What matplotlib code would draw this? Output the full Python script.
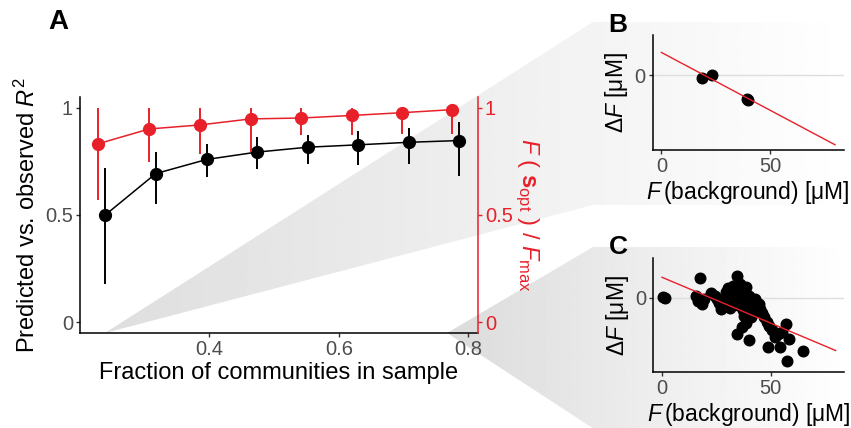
import matplotlib.pyplot as plt
from matplotlib.patches import Polygon
import numpy as np

plt.rcParams['font.family'] = ['Liberation Sans', 'DejaVu Sans']
plt.rcParams['mathtext.fontset'] = 'custom'
plt.rcParams['mathtext.rm'] = 'Liberation Sans'
plt.rcParams['mathtext.it'] = 'Liberation Sans:italic'
plt.rcParams['mathtext.bf'] = 'Liberation Sans:bold'

RED = '#E8202A'
TICK_GREY = '#4D4D4D'

# panel A: predicted vs observed R^2 (black, left axis)
frac_r2 = [0.239, 0.317, 0.396, 0.473, 0.552, 0.629, 0.709, 0.786]
r2_mean = [0.50, 0.693, 0.759, 0.793, 0.816, 0.827, 0.839, 0.847]
r2_low = [0.18, 0.551, 0.677, 0.716, 0.739, 0.731, 0.739, 0.682]
r2_high = [0.717, 0.793, 0.832, 0.862, 0.875, 0.890, 0.906, 0.932]

# panel A: F(s_opt)/F_max (red, right axis)
frac_opt = [0.228, 0.307, 0.386, 0.464, 0.542, 0.620, 0.698, 0.775]
opt_mean = [0.832, 0.901, 0.920, 0.948, 0.952, 0.964, 0.977, 0.991]
opt_low = [0.569, 0.747, 0.782, 0.793, 0.875, 0.875, 0.878, 0.878]
opt_high = [1.0, 1.0, 1.0, 1.0, 1.0, 1.0, 1.0, 1.0]

# panel B
bg_b = [18.7, 23.5, 39.3, 40.0]
dF_b = [-1.1, 0.3, -10.7, -11.3]
fit_b = (10.5, -0.53)

# panel C
bg_c = [0.5, 1.5, 15.5, 16.5, 17.5, 18.5, 19.5, 22.5, 24.5, 25.5, 26.5, 27.0,
        28.5, 29.5, 30.0, 30.5, 31.0, 31.5, 32.0, 32.5, 33.0, 33.5, 34.0, 34.5,
        35.0, 35.5, 36.0, 36.5, 37.0, 37.5, 38.0, 38.5, 38.0, 38.5, 37.0, 39.5,
        40.0, 40.5, 41.0, 41.5, 42.5, 43.0, 44.5, 45.0, 46.0, 47.0, 48.5, 49.5,
        50.8, 52.3, 53.5, 55.4, 57.3, 58.4, 54.6, 48.8, 65.0, 57.5, 40.0, 34.7]
dF_c = [0.3, -0.2, 0.8, -1.5, 9.0, -3.0, -0.5, 2.0, 1.0, -0.5, -2.5, -5.0,
        -4.0, 2.5, 0.5, 4.5, -1.5, -4.5, 3.0, 5.5, 1.0, -2.0, 4.0, 9.8,
        -3.5, 0.5, 6.5, -1.0, 3.0, -5.5, 1.5, 5.0, -8.5, -11.8, -13.5, -4.0,
        1.0, -7.0, -9.0, -2.5, -6.5, -0.5, -2.8, -5.0, -6.8, -9.0, -11.0, -13.0,
        -15.0, -17.8, -16.5, -15.5, -11.9, -19.0, -22.6, -22.6, -24.6, -29.2, -19.5, -16.6]
fit_c = (9.4, -0.42)
fit_x = [0, 80]

W, H = 851, 428
fig = plt.figure(figsize=(W / 100, H / 100), dpi=100)
fig.patch.set_facecolor('white')

# grey zoom wedges behind everything (figure pixel coords)
bg = fig.add_axes([0, 0, 1, 1], zorder=0)
bg.set_autoscale_on(False)
shapes = [
    ([(105, 333), (593, 22), (W, 22), (W, 205), (593, 205)], 105, 0.87),
    ([(447, 333), (593, 247), (W, 247), (W, 440), (611, 440)], 447, 0.86),
]
for verts, x0, c0 in shapes:
    poly = Polygon(verts, closed=True, facecolor='none', edgecolor='none')
    bg.add_patch(poly)
    grad = np.linspace(c0, 1.0, 256)[None, :]
    im = bg.imshow(grad, cmap='gray', vmin=0, vmax=1, extent=[x0, W, 440, 0],
                   aspect='auto', interpolation='bilinear')
    im.set_clip_path(poly)
bg.set_xlim(0, W)
bg.set_ylim(H, 0)
bg.axis('off')


def style_axes(ax):
    ax.patch.set_visible(False)
    for s in ['top', 'right']:
        ax.spines[s].set_visible(False)
    for s in ['left', 'bottom']:
        ax.spines[s].set_linewidth(1.1)
    ax.tick_params(length=3, width=1, color='#333333', labelcolor=TICK_GREY,
                   labelsize=14.5, pad=2)


# ---- panel A
axA = fig.add_axes([80 / W, 95 / H, 398 / W, 236 / H], zorder=1)
style_axes(axA)
r2_mean = np.array(r2_mean)
axA.errorbar(frac_r2, r2_mean,
             yerr=[r2_mean - np.array(r2_low), np.array(r2_high) - r2_mean],
             fmt='-o', color='black', ms=8.5, lw=1.1, elinewidth=1.4, capsize=0)
axA.set_xlim(0.2, 0.815)
axA.set_ylim(-0.05, 1.05)
axA.set_xticks([0.4, 0.6, 0.8])
axA.set_xticklabels(['0.4', '0.6', '0.8'])
axA.set_yticks([0, 0.5, 1])
axA.set_yticklabels(['0', '0.5', '1'])
axA.set_xlabel('Fraction of communities in sample', fontsize=17, labelpad=2)
axA.set_ylabel(r'Predicted vs. observed $R^2$', fontsize=17, labelpad=4)

ax2 = axA.twinx()
ax2.patch.set_visible(False)
for s in ['top', 'left', 'bottom']:
    ax2.spines[s].set_visible(False)
ax2.spines['right'].set_color(RED)
ax2.spines['right'].set_linewidth(1.1)
opt_mean = np.array(opt_mean)
ax2.errorbar(frac_opt, opt_mean,
             yerr=[opt_mean - np.array(opt_low), np.array(opt_high) - opt_mean],
             fmt='-o', color=RED, ms=8.5, lw=1.1, elinewidth=1.4, capsize=0)
ax2.set_ylim(-0.05, 1.05)
ax2.set_yticks([0, 0.5, 1])
ax2.set_yticklabels(['0', '0.5', '1'])
ax2.tick_params(length=3, width=1, color=RED, labelcolor=RED, labelsize=14.5, pad=2)
ax2.set_ylabel(r'$F$ ( $\mathbf{s}_{\mathrm{opt}}$ ) / $F_{\mathrm{max}}$',
               color=RED, fontsize=17, rotation=270, labelpad=20)


# ---- panels B and C
def scatter_panel(rect, xs, ys, fit):
    ax = fig.add_axes(rect, zorder=1)
    style_axes(ax)
    ax.yaxis.grid(True, color='#DEDEDE', lw=1)
    ax.set_axisbelow(True)
    ax.scatter(xs, ys, s=58, color='black', zorder=2)
    fx = np.array(fit_x)
    ax.plot(fx, fit[0] + fit[1] * fx, color=RED, lw=1, zorder=3)
    ax.set_xlim(-4, 84)
    ax.set_xticks([0, 50])
    ax.set_yticks([0])
    ax.set_xlabel(r'$F\,$(background) [μM]', fontsize=16.5, labelpad=2)
    ax.set_ylabel(r'$\mathit{\Delta}F$ [μM]', fontsize=16.5, labelpad=3)
    return ax


axB = scatter_panel([652.7 / W, 278 / H, 191 / W, 115 / H], bg_b, dF_b, fit_b)
axB.set_ylim(-34.3, 18.5)
axC = scatter_panel([653.3 / W, 55.7 / H, 191 / W, 114 / H], bg_c, dF_c, fit_c)
axC.set_ylim(-34.2, 18.1)

fig.text(58 / W, 1 - 22 / H, 'A', fontsize=20, fontweight='bold', ha='center', va='center')
fig.text(618 / W, 1 - 25 / H, 'B', fontsize=19, fontweight='bold', ha='center', va='center')
fig.text(618 / W, 1 - 247 / H, 'C', fontsize=19, fontweight='bold', ha='center', va='center')

fig.savefig('out.png', dpi=100)
